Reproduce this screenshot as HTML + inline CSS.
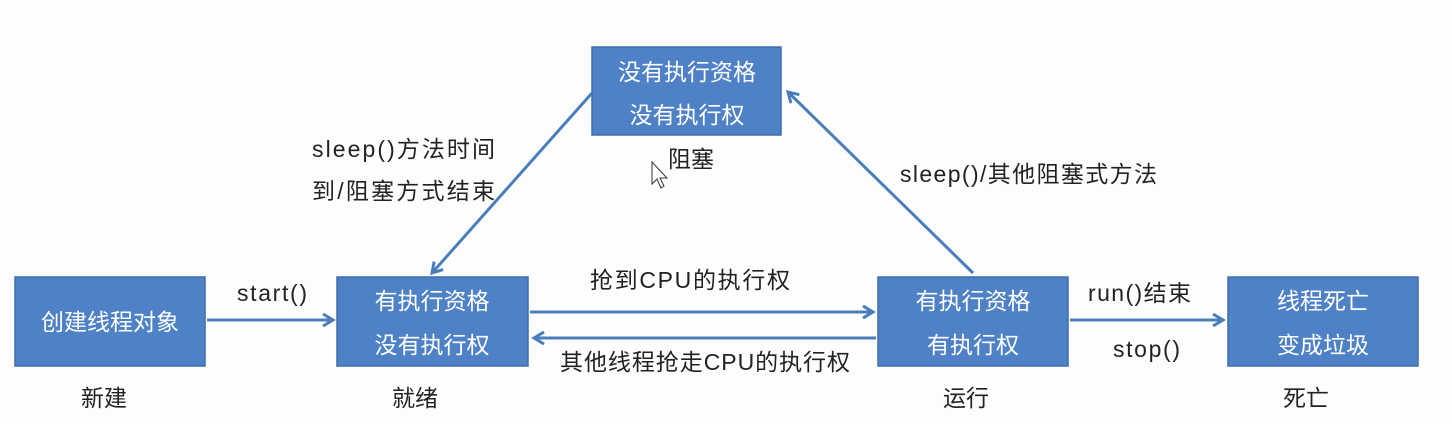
<!DOCTYPE html>
<html><head><meta charset="utf-8"><style>
body{margin:0;width:1452px;height:419px;background:#fdfdfd;overflow:hidden;font-family:"Liberation Sans","Noto Sans CJK SC",sans-serif;}
svg text{font-family:"Liberation Sans","Noto Sans CJK SC",sans-serif;}
</style></head><body>
<svg width="1452" height="419" xmlns="http://www.w3.org/2000/svg">
<defs><marker id="a" markerWidth="14" markerHeight="14" refX="11" refY="7" orient="auto" markerUnits="userSpaceOnUse"><path d="M1,1 L11,7 L1,13" fill="none" stroke="#4a7ebb" stroke-width="3"/></marker></defs>
<g fill="#4f81c6" stroke="#3f6ea8" stroke-width="1.5">
<rect x="15" y="277" width="190" height="89"/>
<rect x="337" y="277" width="191" height="89"/>
<rect x="592" y="47" width="189" height="88"/>
<rect x="878" y="277" width="190" height="89"/>
<rect x="1228" y="277" width="190" height="89"/>
</g>
<g stroke="#4a7ebb" stroke-width="3" fill="none" marker-end="url(#a)">
<line x1="207" y1="320" x2="333" y2="320"/>
<line x1="530" y1="312" x2="873" y2="312"/>
<line x1="876" y1="338" x2="534" y2="338"/>
<line x1="1070" y1="320" x2="1223" y2="320"/>
<line x1="592" y1="93" x2="432" y2="273"/>
<line x1="973" y1="273" x2="788" y2="92"/>
</g>
<g fill="#fff" font-size="23" text-anchor="middle">
<text x="110" y="330">创建线程对象</text>
<text x="432" y="309">有执行资格</text><text x="432" y="353">没有执行权</text>
<text x="687" y="80">没有执行资格</text><text x="687" y="123">没有执行权</text>
<text x="973" y="309">有执行资格</text><text x="973" y="353">有执行权</text>
<text x="1323" y="309">线程死亡</text><text x="1323" y="353">变成垃圾</text>
</g>
<g fill="#222" font-size="23">
<text x="237" y="301" textLength="70">start()</text>
<text x="590" y="288" textLength="200">抢到CPU的执行权</text>
<text x="560" y="370" textLength="290">其他线程抢走CPU的执行权</text>
<text x="1088" y="301" textLength="103">run()结束</text>
<text x="1113" y="357" textLength="67">stop()</text>
<text x="312" y="157" textLength="183">sleep()方法时间</text>
<text x="312" y="199" textLength="183">到/阻塞方式结束</text>
<text x="900" y="182" textLength="257">sleep()/其他阻塞式方法</text>
<text x="668" y="167">阻塞</text>
<text x="81" y="406">新建</text>
<text x="392" y="406">就绪</text>
<text x="943" y="406">运行</text>
<text x="1283" y="406">死亡</text>
</g>
<path d="M652,162 L652,184 L657,179 L661,188 L664,186 L660,178 L667,178 Z" fill="#fff" stroke="#333" stroke-width="1"/>
</svg>
</body></html>
